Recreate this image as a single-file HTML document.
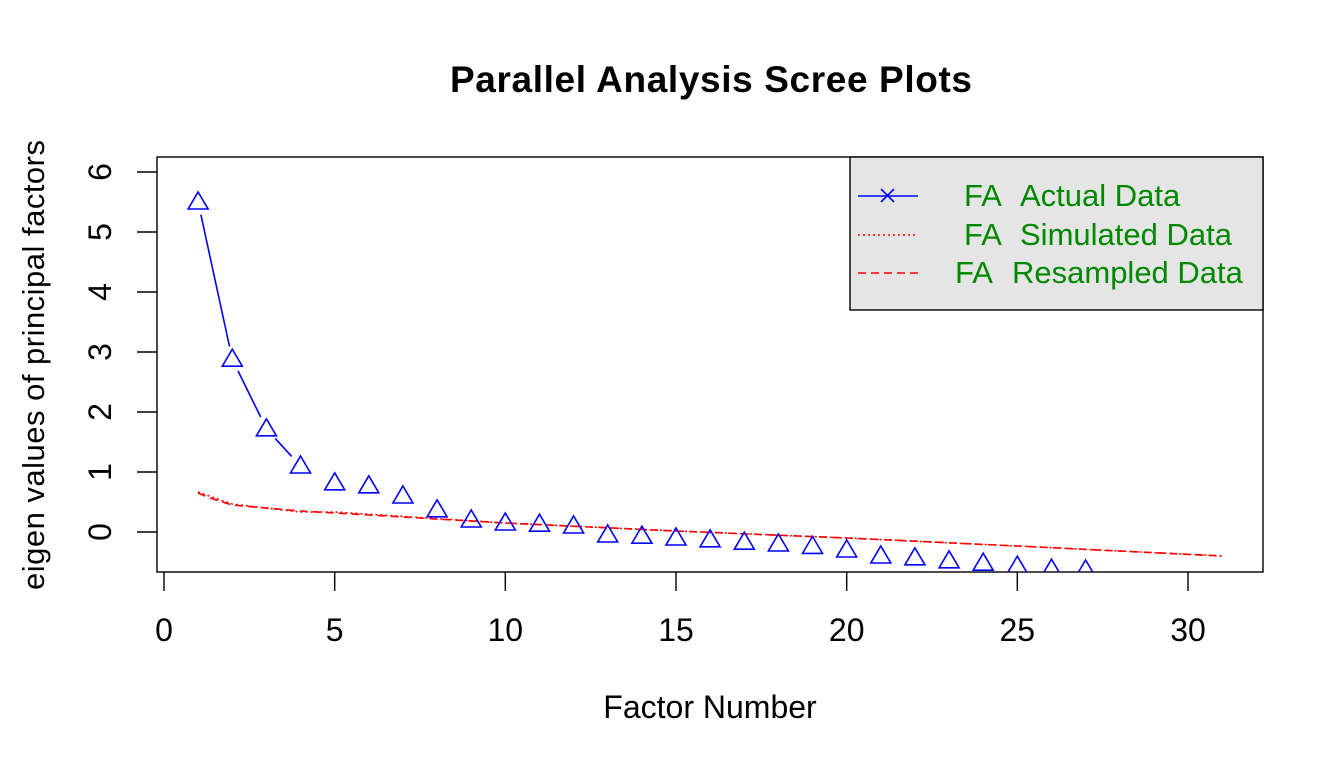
<!DOCTYPE html><html><head><style>body{margin:0;background:#fff}svg{display:block}text{font-family:"Liberation Sans",Arial,sans-serif}</style></head><body>
<svg width="1344" height="768" xmlns="http://www.w3.org/2000/svg" xmlns:xlink="http://www.w3.org/1999/xlink">
<defs><path id="t" d="M0,-10L10,7L-10,7Z" fill="none" stroke="#00f" stroke-width="1.6"/></defs>
<text x="711" y="92" font-size="37" font-weight="bold" text-anchor="middle" textLength="522">Parallel Analysis Scree Plots</text>
<text x="710" y="718" font-size="32" text-anchor="middle">Factor Number</text>
<text transform="translate(44,365) rotate(-90)" font-size="31" text-anchor="middle" textLength="450">eigen values of principal factors</text>
<g stroke="#000" stroke-width="1.4" fill="none">
<rect x="157" y="157" width="1106" height="415"/>
<path d="M164,572V591M334.7,572V591M505.3,572V591M676,572V591M846.7,572V591M1017.3,572V591M1188,572V591"/>
<path d="M157,172H137M157,232H137M157,292H137M157,352H137M157,412H137M157,472H137M157,532H137"/>
</g>
<g font-size="32" text-anchor="middle">
<text x="164" y="641">0</text><text x="334.7" y="641">5</text><text x="505.3" y="641">10</text><text x="676" y="641">15</text><text x="846.7" y="641">20</text><text x="1017.3" y="641">25</text><text x="1188" y="641">30</text>
<text transform="translate(111,532) rotate(-90)">0</text><text transform="translate(111,472) rotate(-90)">1</text><text transform="translate(111,412) rotate(-90)">2</text><text transform="translate(111,352) rotate(-90)">3</text><text transform="translate(111,292) rotate(-90)">4</text><text transform="translate(111,232) rotate(-90)">5</text><text transform="translate(111,172) rotate(-90)">6</text>
</g>
<svg x="157" y="157" width="1106" height="415" viewBox="157 157 1106 415">
<polyline fill="none" stroke="#f00" stroke-width="1.6" stroke-dasharray="2,3" points="198,492 232,504 300,512 335,512 505,523 676,531 847,538 1017,546 1222,556"/>
<polyline fill="none" stroke="#f00" stroke-width="1.6" stroke-dasharray="8,5" points="198,493 210,498 232,505 300,511 335,513 505,523 676,531 847,538 1017,546 1222,556"/>
<path d="M200.9,214.7L229.5,346.5M238,370.9L260.7,417.1M275.2,438.4L291.7,456.4" stroke="#00f" stroke-width="1.6" fill="none"/>
<use xlink:href="#t" x="198.1" y="202"/><use xlink:href="#t" x="232.3" y="359.2"/><use xlink:href="#t" x="266.4" y="428.8"/><use xlink:href="#t" x="300.5" y="466"/><use xlink:href="#t" x="334.7" y="482.8"/><use xlink:href="#t" x="368.8" y="485.8"/><use xlink:href="#t" x="402.9" y="496"/><use xlink:href="#t" x="437.1" y="509.8"/><use xlink:href="#t" x="471.2" y="520"/><use xlink:href="#t" x="505.3" y="523"/><use xlink:href="#t" x="539.5" y="524.2"/><use xlink:href="#t" x="573.6" y="526"/><use xlink:href="#t" x="607.7" y="535"/><use xlink:href="#t" x="641.9" y="536.2"/><use xlink:href="#t" x="676" y="538"/><use xlink:href="#t" x="710.1" y="539.8"/><use xlink:href="#t" x="744.3" y="542.2"/><use xlink:href="#t" x="778.4" y="544"/><use xlink:href="#t" x="812.5" y="546.4"/><use xlink:href="#t" x="846.7" y="550"/><use xlink:href="#t" x="880.8" y="556"/><use xlink:href="#t" x="914.9" y="557.8"/><use xlink:href="#t" x="949.1" y="560.8"/><use xlink:href="#t" x="983.2" y="563.2"/><use xlink:href="#t" x="1017.3" y="566.2"/><use xlink:href="#t" x="1051.5" y="569.2"/><use xlink:href="#t" x="1085.6" y="570"/>
</svg>
<rect x="850" y="157" width="413" height="153" fill="#e5e5e5" stroke="#000" stroke-width="1.4"/>
<path d="M858,196H918" stroke="#00f" stroke-width="1.6"/><path d="M881,189l13,13M894,189l-13,13" stroke="#00f" stroke-width="1.6"/>
<path d="M858,235H918" stroke="#f00" stroke-width="1.6" stroke-dasharray="2,3"/>
<path d="M858,273H918" stroke="#f00" stroke-width="1.6" stroke-dasharray="8,5"/>
<g font-size="31" fill="#080">
<text x="964" y="206">FA</text><text x="1020" y="206">Actual Data</text>
<text x="964" y="245">FA</text><text x="1020" y="245">Simulated Data</text>
<text x="955" y="283">FA</text><text x="1012" y="283">Resampled Data</text>
</g>
</svg></body></html>
